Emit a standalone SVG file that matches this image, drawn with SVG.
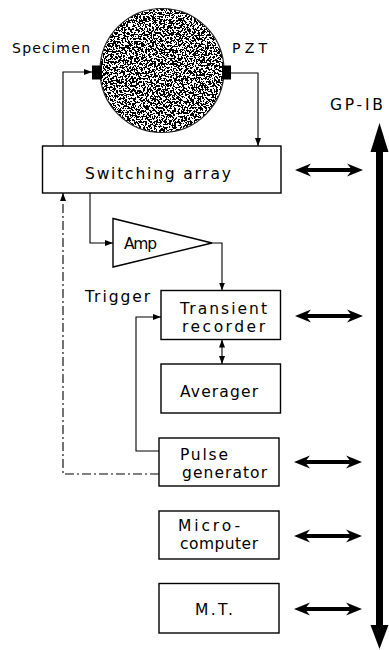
<svg xmlns="http://www.w3.org/2000/svg" width="389" height="650" viewBox="0 0 389 650">
<style>
.box{fill:#fff;stroke:#000;stroke-width:1.4}
.t{font-family:"DejaVu Sans","Liberation Sans",sans-serif;font-size:15.5px;fill:#000}
.ts{font-family:"DejaVu Sans","Liberation Sans",sans-serif;font-size:14px;fill:#000}
.ln{fill:none;stroke:#000;stroke-width:1.1}
.dash{stroke-dasharray:9 3 2 3}
</style>
<defs>
<marker id="ah" viewBox="0 0 8 6" refX="8" refY="3" markerWidth="8" markerHeight="6" orient="auto-start-reverse" markerUnits="userSpaceOnUse"><path d="M0,0 L8,3 L0,6 Z"/></marker>
<path id="dbl" d="M0,0 L16,-6.5 L12.5,-2 L55.5,-2 L52,-6.5 L68,0 L52,6.5 L55.5,2 L12.5,2 L16,6.5 Z" fill="#000"/>
<filter id="speckle" x="0" y="0" width="1" height="1">
<feTurbulence type="fractalNoise" baseFrequency="0.55" numOctaves="3" seed="7" result="n"/>
<feColorMatrix in="n" type="matrix" values="0 0 0 0 0  0 0 0 0 0  0 0 0 0 0  1 0 0 0 0" result="a"/>
<feComponentTransfer in="a" result="b"><feFuncA type="discrete" tableValues="0 0 1 1"/></feComponentTransfer>
<feComposite in="b" in2="SourceGraphic" operator="in"/>
</filter>
</defs>

<g id="specimen">
<circle cx="162" cy="70.5" r="62" fill="#fff"/>
<circle cx="162" cy="70.5" r="62" fill="#000" filter="url(#speckle)"/>
<circle cx="162" cy="70.5" r="62" fill="none" stroke="#222" stroke-width="1.2"/>
<rect x="92" y="65.5" width="10" height="14" fill="#000"/>
<rect x="222" y="65.5" width="9" height="14" fill="#000"/>
<text class="ts" x="12" y="53" textLength="78" lengthAdjust="spacing">Specimen</text>
<text class="ts" x="232" y="52.5" textLength="35" lengthAdjust="spacing">PZT</text>
</g>

<g id="switching-array">
<rect class="box" x="42.5" y="146" width="238.5" height="47"/>
<text class="t" x="85" y="178.5" textLength="146" lengthAdjust="spacing">Switching array</text>
</g>

<g id="amp">
<polygon class="box" points="113,218.5 113,267 212,243"/>
<text class="t" x="124" y="248.5" textLength="33" lengthAdjust="spacing">Amp</text>
</g>

<g id="transient-recorder">
<rect class="box" x="161" y="290.5" width="119.5" height="49"/>
<text class="t" x="180" y="314" textLength="87" lengthAdjust="spacing">Transient</text>
<text class="t" x="182" y="331.5" textLength="83" lengthAdjust="spacing">recorder</text>
</g>

<g id="averager">
<rect class="box" x="161" y="364" width="119.5" height="49"/>
<text class="t" x="180" y="397" textLength="78" lengthAdjust="spacing">Averager</text>
</g>

<g id="pulse-generator">
<rect class="box" x="159" y="438" width="120" height="48"/>
<text class="t" x="180" y="460" textLength="48" lengthAdjust="spacing">Pulse</text>
<text class="t" x="182" y="477.5" textLength="85" lengthAdjust="spacing">generator</text>
</g>

<g id="microcomputer">
<rect class="box" x="159" y="511" width="120" height="48"/>
<text class="t" x="178" y="531" textLength="62" lengthAdjust="spacing">Micro-</text>
<text class="t" x="180" y="548.5" textLength="78" lengthAdjust="spacing">computer</text>
</g>

<g id="mt">
<rect class="box" x="159" y="583.5" width="120" height="49.5"/>
<text class="t" x="195" y="615" textLength="38" lengthAdjust="spacing">M.T.</text>
</g>

<g id="gpib-bus">
<rect x="376" y="150" width="7" height="477" fill="#000"/>
<polygon points="379.5,123 388.5,152 370.5,152" fill="#000"/>
<polygon points="379.5,649 388.5,625 370.5,625" fill="#000"/>
<text class="t" x="330" y="110" textLength="53" lengthAdjust="spacing">GP-IB</text>
</g>

<g id="connectors">
<polyline class="ln" points="63,146 63,72 92,72" marker-end="url(#ah)"/>
<polyline class="ln" points="231,73 258,73 258,146" marker-end="url(#ah)"/>
<polyline class="ln" points="90,193 90,243 113,243" marker-end="url(#ah)"/>
<polyline class="ln" points="212,243 222,243 222,290.5" marker-end="url(#ah)"/>
<polyline class="ln" points="159,451 136,451 136,317 161,317" marker-end="url(#ah)"/>
<line class="ln" x1="222" y1="339.5" x2="222" y2="364" marker-start="url(#ah)" marker-end="url(#ah)"/>
<polyline class="ln dash" points="159,474 63,474 63,193" marker-end="url(#ah)"/>
<text class="t" x="85" y="302" textLength="65" lengthAdjust="spacing">Trigger</text>
<use href="#dbl" x="295" y="170"/>
<use href="#dbl" x="295" y="316"/>
<use href="#dbl" x="294" y="462"/>
<use href="#dbl" x="294" y="536"/>
<use href="#dbl" x="294" y="609"/>
</g>
</svg>
